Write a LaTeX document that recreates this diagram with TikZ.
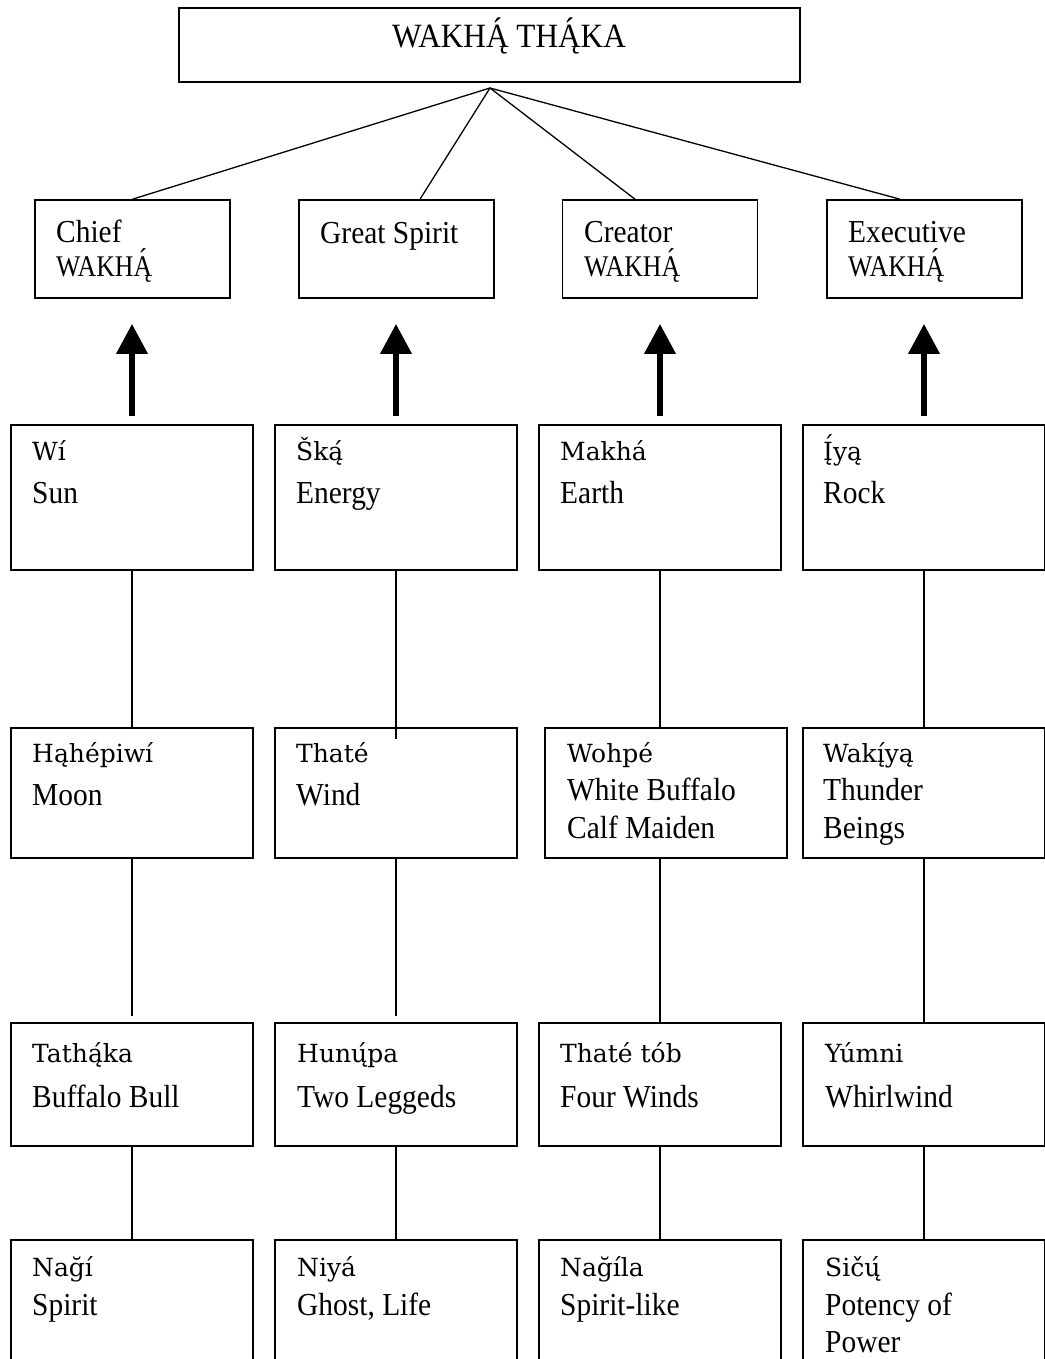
\documentclass[tikz,border=0pt]{standalone}
\usepackage{fontspec}
\setmainfont{Liberation Serif}
\newfontfamily\en[FakeStretch=0.92]{Liberation Serif}
\newfontfamily\wk[FakeStretch=0.86]{Liberation Serif}
\newfontfamily\lk{DejaVu Serif}
\usetikzlibrary{arrows.meta}
\newcommand\acu[1]{\leavevmode\setbox0=\hbox{#1}\setbox2=\hbox{\char"00B4}\rlap{\hbox to\wd0{\hss\raise\dimexpr\ht0-1ex\relax\box2\relax\hss}}\box0\relax}
\begin{document}
\begin{tikzpicture}[x=1pt,y=-1pt,
  box/.style={draw, line width=1.6pt, inner sep=0pt, minimum width=#1},
  conn/.style={line width=1.3pt},
  bigarrow/.style={line width=6.5pt, -{Triangle[length=30pt,width=30pt]}},
  lak/.style={font=\lk\fontsize{25}{30}\selectfont, anchor=base west, inner sep=0pt},
  eng/.style={font=\en\fontsize{32}{38}\selectfont, anchor=base west, inner sep=0pt},
  wak/.style={font=\wk\fontsize{30}{36}\selectfont, anchor=base west, inner sep=0pt},
  ttl/.style={font=\en\fontsize{34}{40}\selectfont, anchor=base west, inner sep=0pt}]
\useasboundingbox (0,0) rectangle (1044,1359);
\fill[white] (0,0) rectangle (1044,1359);

% top
\node[box=621pt, minimum height=74pt] (top) at (489.5,45) {};
\node[ttl] (ttltxt) at (392,48) {WAKH\acu{Ą}\ TH\acu{Ą}KA};
\coordinate (apex) at (490,88);

% level 2
\node[box=195pt, minimum height=98pt] (c1) at (132.5,249) {};
\node[box=195pt, minimum height=98pt] (c2) at (396.5,249) {};
\node[box=195pt, minimum height=98pt] (c3) at (660,249) {};
\node[box=195pt, minimum height=98pt] (c4) at (924.5,249) {};
\node[eng] (t1a) at (56,242) {Chief};
\node[wak] (t1b) at (56,276) {WAKH\acu{Ą}};
\node[eng] (t2a) at (320,243) {Great Spirit};
\node[eng] (t3a) at (584,242) {Creator};
\node[wak] (t3b) at (584,276) {WAKH\acu{Ą}};
\node[eng] (t4a) at (848,242) {Executive};
\node[wak] (t4b) at (848,276) {WAKH\acu{Ą}};

\draw[conn] (apex) -- (c1.north);
\draw[conn] (apex) -- ([xshift=23.5pt]c2.north);
\draw[conn] (apex) -- ([xshift=-25pt]c3.north);
\draw[conn] (apex) -- ([xshift=-24.5pt]c4.north);

% level 3
\node[box=242pt, minimum height=145pt] (r3c1) at (132,497.5) {};
\node[box=242pt, minimum height=145pt] (r3c2) at (396,497.5) {};
\node[box=242pt, minimum height=145pt] (r3c3) at (660,497.5) {};
\node[box=242pt, minimum height=145pt] (r3c4) at (924,497.5) {};
\node[lak] (l3a) at (32,460) {Wí};
\node[eng] (e3a) at (32,503) {Sun};
\node[lak] (l3b) at (296,460) {Šką́};
\node[eng] (e3b) at (296,503) {Energy};
\node[lak] (l3c) at (560,460) {Makhá};
\node[eng] (e3c) at (560,503) {Earth};
\node[lak] (l3d) at (823,460) {\acu{Į}yą};
\node[eng] (e3d) at (823,503) {Rock};

\foreach \i in {1,2,3,4}{
  \draw[bigarrow] ([yshift=8pt]r3c\i.north) -- ([yshift=-25pt]c\i.south -| r3c\i.north);
}

% level 4
\node[box=242pt, minimum height=130pt] (r4c1) at (132,793) {};
\node[box=242pt, minimum height=130pt] (r4c2) at (396,793) {};
\node[box=242pt, minimum height=130pt] (r4c3) at (666,793) {};
\node[box=242pt, minimum height=130pt] (r4c4) at (924,793) {};
\node[lak] (l4a) at (32,762) {Hąhépiwí};
\node[eng] (e4a) at (32,805) {Moon};
\node[lak] (l4b) at (296,762) {Thaté};
\node[eng] (e4b) at (296,805) {Wind};
\node[lak] (l4c) at (567,762) {Wohpé};
\node[eng] (e4c1) at (567,800) {White Buffalo};
\node[eng] (e4c2) at (567,838) {Calf Maiden};
\node[lak] (l4d) at (823,762) {Wakį́yą};
\node[eng] (e4d1) at (823,800) {Thunder};
\node[eng] (e4d2) at (823,838) {Beings};

\draw[conn] (r3c1.south) -- (r4c1.north);
\draw[conn] (r3c2.south) -- ([yshift=-12pt]r4c2.north);
\draw[conn] (r3c3.south) -- (r3c3.south |- r4c3.north);
\draw[conn] (r3c4.south) -- (r4c4.north);

% level 5
\node[box=242pt, minimum height=123pt] (r5c1) at (132,1084.5) {};
\node[box=242pt, minimum height=123pt] (r5c2) at (396,1084.5) {};
\node[box=242pt, minimum height=123pt] (r5c3) at (660,1084.5) {};
\node[box=242pt, minimum height=123pt] (r5c4) at (924,1084.5) {};
\node[lak] (l5a) at (32,1062) {Tathą́ka};
\node[eng] (e5a) at (32,1107) {Buffalo Bull};
\node[lak] (l5b) at (297,1062) {Hunų́pa};
\node[eng] (e5b) at (297,1107) {Two Leggeds};
\node[lak] (l5c) at (560,1062) {Thaté tób};
\node[eng] (e5c) at (560,1107) {Four Winds};
\node[lak] (l5d) at (825,1062) {Yúmni};
\node[eng] (e5d) at (825,1107) {Whirlwind};

\draw[conn] (r4c1.south) -- ([yshift=6pt]r5c1.north);
\draw[conn] (r4c2.south) -- ([yshift=6pt]r5c2.north);
\draw[conn] (r4c3.south -| r5c3.north) -- (r5c3.north);
\draw[conn] (r4c4.south) -- (r5c4.north);

% level 6
\node[box=242pt, minimum height=160pt] (r6c1) at (132,1320) {};
\node[box=242pt, minimum height=160pt] (r6c2) at (396,1320) {};
\node[box=242pt, minimum height=160pt] (r6c3) at (660,1320) {};
\node[box=242pt, minimum height=160pt] (r6c4) at (924,1320) {};
\node[lak] (l6a) at (32,1276) {Nağí};
\node[eng] (e6a) at (32,1315) {Spirit};
\node[lak] (l6b) at (297,1276) {Niyá};
\node[eng] (e6b) at (297,1315) {Ghost, Life};
\node[lak] (l6c) at (560,1276) {Nağíla};
\node[eng] (e6c) at (560,1315) {Spirit-like};
\node[lak] (l6d) at (825,1276) {Sičų́};
\node[eng] (e6d1) at (825,1315) {Potency of};
\node[eng] (e6d2) at (825,1352) {Power};

\draw[conn] (r5c1.south) -- (r6c1.north);
\draw[conn] (r5c2.south) -- (r6c2.north);
\draw[conn] (r5c3.south) -- (r6c3.north);
\draw[conn] (r5c4.south) -- (r6c4.north);
\end{tikzpicture}
\end{document}
